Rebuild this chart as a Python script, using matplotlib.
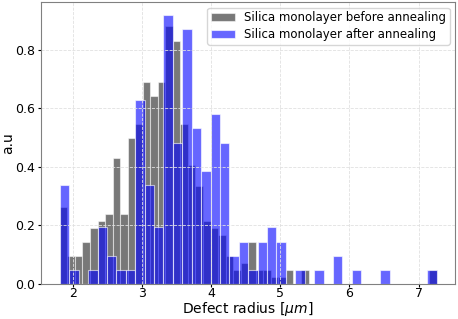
import numpy as np
import matplotlib
matplotlib.use("Agg")
import matplotlib.pyplot as plt

# Data range of defect radii (both samples share min/max)
radius_min = 1.816
radius_max = 7.26
bins_before = 50
bins_after = 40

# Normalised histogram heights (a.u.)
before_heights = [0.262, 0.095, 0.095, 0.143, 0.191, 0.214, 0.238, 0.429, 0.238, 0.500,
                  0.547, 0.690, 0.643, 0.690, 0.880, 0.831, 0.547, 0.405, 0.334, 0.214,
                  0.191, 0.167, 0.095, 0.048, 0.071, 0.143, 0.048, 0.048, 0.024, 0.024,
                  0.048, 0.0, 0.048, 0.0, 0.0, 0.0, 0.0, 0.0, 0.0, 0.0,
                  0.0, 0.0, 0.0, 0.0, 0.0, 0.0, 0.0, 0.0, 0.0, 0.048]
after_heights = [0.338, 0.048, 0.0, 0.048, 0.193, 0.097, 0.048, 0.048, 0.628, 0.338,
                 0.193, 0.918, 0.483, 0.869, 0.531, 0.386, 0.580, 0.483, 0.097, 0.145,
                 0.048, 0.145, 0.193, 0.145, 0.0, 0.048, 0.0, 0.048, 0.0, 0.097,
                 0.0, 0.048, 0.0, 0.0, 0.048, 0.0, 0.0, 0.0, 0.0, 0.048]

labels = ["Silica monolayer before annealing", "Silica monolayer after annealing"]

edges_b = np.linspace(radius_min, radius_max, bins_before + 1)
edges_a = np.linspace(radius_min, radius_max, bins_after + 1)
centers_b = 0.5 * (edges_b[:-1] + edges_b[1:])
centers_a = 0.5 * (edges_a[:-1] + edges_a[1:])

fig = plt.figure(figsize=(4.58, 3.19), dpi=100)
ax = fig.add_axes([0.0895, 0.1097, 0.905, 0.885])

ax.hist(centers_b, bins=edges_b, weights=before_heights, color="black", alpha=0.53,
        edgecolor="white", linewidth=0.8, label=labels[0])
ax.hist(centers_a, bins=edges_a, weights=after_heights, color="blue", alpha=0.6,
        edgecolor="white", linewidth=0.8, label=labels[1])

ax.grid(True, color="#e0e0e0", linestyle="--", linewidth=0.6)
for s in ax.spines.values():
    s.set_color("#808080")
ax.tick_params(axis="x", labelsize=9, length=2.2, pad=0.3)
ax.tick_params(axis="y", labelsize=9, length=2.0, pad=2.4)
ax.set_xlabel("Defect radius [$\\mu m$]", fontsize=10)
ax.set_ylabel("a.u", fontsize=10)
ax.xaxis.set_label_coords(0.5, -0.058)
ax.yaxis.set_label_coords(-0.062, 0.5)
ax.legend(loc="upper right", fontsize=8.5, labelspacing=0.35, borderpad=0.3)

fig.savefig("out.png", dpi=100)
